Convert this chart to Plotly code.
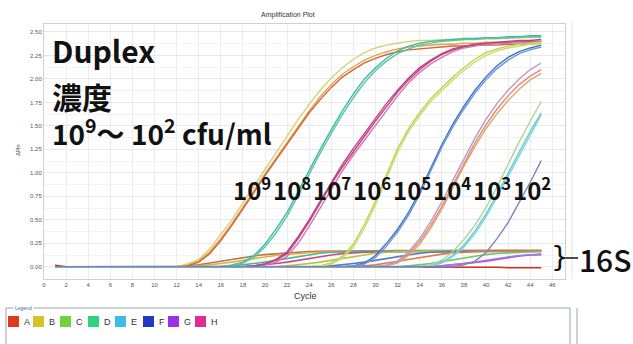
import plotly.graph_objects as go

# ---------------- data ----------------
cycles = list(range(1, 46))

# target amplification curves (values for the last cycles; earlier cycles are baseline 0)
g9a = [0.02,0.06,0.16,0.3,0.46,0.63,0.81,0.99,1.16,1.33,1.5,1.66,1.81,1.94,2.05,2.13,2.2,2.25,2.29,2.32,2.34,2.35,2.36,2.37,2.37,2.38,2.38,2.39,2.39,2.39,2.40,2.40,2.40]
g9b = [0.03,0.08,0.19,0.34,0.5,0.68,0.86,1.04,1.22,1.4,1.57,1.73,1.88,2.01,2.12,2.21,2.28,2.33,2.36,2.38,2.4,2.41,2.41,2.42,2.42,2.42,2.43,2.43,2.43,2.43,2.44,2.44,2.44]
g9c = [0.01,0.05,0.14,0.28,0.44,0.61,0.79,0.97,1.14,1.31,1.48,1.64,1.78,1.91,2.02,2.1,2.17,2.22,2.26,2.29,2.31,2.32,2.33,2.34,2.35,2.35,2.36,2.36,2.36,2.37,2.37,2.37,2.38]
g8a = [0.02,0.05,0.12,0.24,0.4,0.58,0.8,1.03,1.25,1.46,1.66,1.84,2.0,2.12,2.22,2.3,2.35,2.38,2.4,2.41,2.42,2.43,2.43,2.44,2.44,2.45,2.45,2.46,2.46]
g8b = [0.01,0.04,0.1,0.21,0.36,0.54,0.76,0.99,1.21,1.42,1.62,1.8,1.96,2.09,2.19,2.27,2.32,2.36,2.38,2.4,2.41,2.42,2.42,2.43,2.43,2.44,2.44,2.45,2.45]
g7a = [0.01,0.03,0.07,0.14,0.3,0.48,0.68,0.88,1.06,1.23,1.39,1.55,1.71,1.86,1.99,2.1,2.19,2.26,2.31,2.34,2.36,2.37,2.38,2.39,2.39,2.4,2.4]
g7b = [0.0,0.02,0.05,0.11,0.25,0.43,0.63,0.83,1.02,1.19,1.35,1.51,1.67,1.82,1.96,2.07,2.16,2.23,2.29,2.33,2.35,2.37,2.38,2.38,2.39,2.39,2.4]
g7c = [0.01,0.03,0.08,0.16,0.32,0.5,0.7,0.9,1.09,1.26,1.42,1.58,1.74,1.88,2.01,2.12,2.2,2.27,2.32,2.35,2.37,2.38,2.39,2.4,2.41,2.41,2.42]
g6a = [0.01,0.04,0.11,0.24,0.45,0.7,0.98,1.26,1.47,1.64,1.79,1.91,2.02,2.12,2.21,2.28,2.32,2.35,2.37,2.38,2.39]
g6b = [0.01,0.03,0.09,0.21,0.41,0.66,0.94,1.22,1.44,1.61,1.76,1.88,1.99,2.09,2.18,2.25,2.3,2.33,2.35,2.37,2.38]
g5a = [0.01,0.04,0.12,0.25,0.4,0.58,0.8,1.05,1.3,1.52,1.71,1.88,2.02,2.14,2.23,2.29,2.33,2.36]
g5b = [0.01,0.03,0.1,0.22,0.37,0.55,0.77,1.02,1.27,1.49,1.68,1.85,1.99,2.11,2.2,2.27,2.31,2.34]
g4a = [0.01,0.05,0.14,0.27,0.44,0.64,0.87,1.1,1.32,1.51,1.68,1.82,1.94,2.03,2.1]
g4b = [0.01,0.04,0.12,0.24,0.41,0.61,0.84,1.07,1.28,1.47,1.63,1.77,1.89,1.99,2.06]
g4c = [0.02,0.06,0.16,0.3,0.48,0.69,0.92,1.15,1.37,1.57,1.74,1.88,2.0,2.1,2.17]
g3a = [0.02,0.07,0.16,0.29,0.44,0.63,0.85,1.09,1.33,1.55,1.76]
g3b = [0.01,0.05,0.12,0.23,0.38,0.56,0.77,1.0,1.22,1.44,1.64]
g3c = [0.01,0.04,0.11,0.21,0.35,0.53,0.74,0.96,1.19,1.41,1.62]
g2a = [0.02,0.06,0.15,0.3,0.47,0.68,0.9,1.13]

# 16S curves
s9a = [0.01,0.02,0.04,0.06,0.08,0.1,0.115,0.13,0.14,0.15,0.157,0.162,0.166,0.168,0.17,0.171,0.172,0.172,0.173,0.173,0.174,0.174,0.174,0.175,0.175,0.175,0.175,0.176,0.176,0.176,0.176,0.176,0.176]
s9b = [0.01,0.02,0.035,0.05,0.07,0.09,0.105,0.12,0.132,0.142,0.15,0.155,0.158,0.16,0.162,0.163,0.164,0.165,0.165,0.166,0.166,0.166,0.167,0.167,0.167,0.167,0.168,0.168,0.168,0.168,0.168,0.168]
s8 = [0.005,0.01,0.02,0.035,0.05,0.07,0.09,0.11,0.13,0.145,0.155,0.16,0.163,0.165,0.166,0.167,0.168,0.168,0.169,0.169,0.17,0.17,0.17,0.17,0.171,0.171,0.171,0.171,0.171,0.171]
s7 = [0.01,0.02,0.035,0.05,0.07,0.09,0.11,0.125,0.14,0.15,0.155,0.158,0.16,0.161,0.162,0.162,0.163,0.163,0.163,0.164,0.164,0.164,0.164,0.164,0.165,0.165,0.165]
s6 = [0.01,0.02,0.035,0.05,0.07,0.09,0.11,0.13,0.145,0.155,0.16,0.163,0.165,0.166,0.167,0.168,0.168,0.169,0.169,0.169,0.17,0.17,0.17,0.17]
s5 = [0.01,0.02,0.035,0.05,0.07,0.09,0.11,0.13,0.145,0.155,0.16,0.162,0.164,0.165,0.166,0.166,0.167,0.167,0.167,0.168]
s4 = [0.01,0.02,0.04,0.06,0.08,0.1,0.12,0.135,0.148,0.156,0.16,0.163,0.165,0.166,0.167,0.168,0.168]
s3 = [0.01,0.02,0.035,0.055,0.075,0.095,0.115,0.13,0.142,0.15,0.155,0.158,0.16]
s2a = [0.01,0.02,0.03,0.045,0.06,0.08,0.1,0.115,0.125,0.13]
s2b = [0.005,0.01,0.02,0.035,0.05,0.07,0.09,0.105,0.12,0.13,0.135]
flat_a = [0.015,0.0,0.0,0.0,0.0, 0.0,0.0,0.0,0.0,0.0, 0.0,0.0,0.0,0.0,0.0,
          0.0,0.0,0.0,0.0,0.0, 0.0,0.0,0.0,0.0,0.0, 0.0,0.0,0.0,0.0,0.0,
          0.0,0.0,0.0,0.0,0.0, 0.0,0.0,0.0,-0.005,-0.005, -0.005,-0.01,-0.01,-0.01,-0.01]

series_16s = [s9a, s9b, s8, s7, s6, s5, s4, s3, s2a, s2b, flat_a]
colors_16s = ["#b8734a", "#e3b23c", "#44b89a", "#c44a8a", "#b0c840", "#4a7cc8",
              "#e07b4a", "#6cc86a", "#9a4ad8", "#b070e0", "#d83020"]

series_target = [g9a, g9b, g9c, g8a, g8b, g7a, g7b, g7c, g6a, g6b, g5a, g5b,
                 g4a, g4b, g4c, g3a, g3b, g3c, g2a]
colors_target = ["#e2a54a", "#d9cf7a", "#d2643a", "#3fb9a5", "#5cc6a0",
                 "#c8398a", "#d877b0", "#b5497f", "#b9d24c", "#cddc6e",
                 "#3f74c9", "#6d95d6", "#e58a68", "#d9a77a", "#b89ac9",
                 "#a9d98f", "#62c9c9", "#7fd5df", "#7b86b8"]

x_ticks = list(range(0, 47, 2))
legend_names = ["A", "B", "C", "D", "E", "F", "G", "H"]
legend_colors = ["#e0381c", "#d6c227", "#6fd23a", "#2fd47a", "#3dbde6", "#2238c4", "#9b32e6", "#e02c92"]
conc_labels = ["9", "8", "7", "6", "5", "4", "3", "2"]

# ---------------- figure ----------------
def full(tail):
    return [0.0] * (len(cycles) - len(tail)) + tail

fig = go.Figure()
for vals, col in zip(series_16s, colors_16s):
    fig.add_trace(go.Scatter(x=cycles, y=full(vals), mode="lines",
                             line=dict(color=col, width=1.6), showlegend=False, hoverinfo="skip"))
for vals, col in zip(series_target, colors_target):
    fig.add_trace(go.Scatter(x=cycles, y=full(vals), mode="lines",
                             line=dict(color=col, width=1.4), showlegend=False, hoverinfo="skip"))

L, R, T, B = 44, 68, 24, 65
W, H = 633, 344
PW, PH = W - L - R, H - T - B

def px(xp):
    return (xp - L) / PW

def py(yp):
    return (H - B - yp) / PH

def txt(text, xp, yp, size, family="Liberation Sans", color="#111", xa="left", weight=None, **kw):
    f = dict(family=family, size=size, color=color)
    if weight is not None:
        f["weight"] = weight
    return dict(text=text, x=px(xp), y=py(yp), xref="paper", yref="paper",
                xanchor=xa, yanchor="middle", showarrow=False, font=f, **kw)

bigfont = "Noto Sans CJK JP"
ann = []
ann.append(txt("Amplification Plot", 288, 15, 7, color="#333", xa="center"))
ann.append(txt("ΔRn", 18, 150, 6, color="#444", xa="center", textangle=-90))
ann.append(txt("Cycle", 305, 296, 9, color="#333", xa="center"))
ann.append(txt("<b>Duplex</b>", 50, 50, 30, family=bigfont))
ann.append(txt("<b>濃度</b>", 50, 96, 30, family=bigfont))
ann.append(txt("<b>10<sup>9</sup>～ 10<sup>2</sup> cfu/ml</b>", 50, 131, 28, family=bigfont))
conc_x = [231, 271, 311, 351, 391, 431, 471, 511]
for lab, xp in zip(conc_labels, conc_x):
    ann.append(txt("<b>10<sup>" + lab + "</sup></b>", xp, 189, 24, family=bigfont))
ann.append(txt("}", 560, 257, 28, family="DejaVu Sans", xa="center"))
ann.append(txt("16S", 577, 259, 30, family=bigfont, weight=500))
ann.append(txt("Legend", 13, 308, 5, color="#4a6a9a", bgcolor="white"))

sq_x = [8, 33, 60, 88, 115, 143, 168, 195]
shapes = []
shapes.append(dict(type="line", xref="paper", yref="paper", x0=px(572), x1=px(572),
                   y0=py(279), y1=py(22), line=dict(color="#e3e3e3", width=1)))
shapes.append(dict(type="line", xref="paper", yref="paper", x0=px(577), x1=px(577),
                   y0=py(360), y1=py(308), line=dict(color="#9aa4ae", width=1)))
shapes.append(dict(type="rect", xref="paper", yref="paper", x0=px(6), x1=px(570),
                   y0=py(360), y1=py(308), line=dict(color="#9aa4ae", width=1), fillcolor="rgba(0,0,0,0)"))
for nm, col, xp in zip(legend_names, legend_colors, sq_x):
    shapes.append(dict(type="rect", xref="paper", yref="paper", x0=px(xp), x1=px(xp + 11),
                       y0=py(327), y1=py(316), fillcolor=col, line=dict(width=0)))
    ann.append(txt(nm, xp + 14, 321.5, 9, color="#333"))
shapes.append(dict(type="line", xref="paper", yref="paper", x0=px(566), x1=px(578),
                   y0=py(258), y1=py(258), line=dict(color="#111", width=1.5)))

fig.update_layout(
    width=W, height=H,
    margin=dict(l=L, r=R, t=T, b=B),
    paper_bgcolor="white", plot_bgcolor="white",
    showlegend=False,
    annotations=ann, shapes=shapes,
    xaxis=dict(range=[0, 47.15], tickvals=x_ticks, ticktext=[str(v) for v in x_ticks],
               showgrid=True, gridcolor="#ececec", gridwidth=1,
               showline=True, mirror=True, linecolor="#d0d0d0", linewidth=1,
               zeroline=False, ticks="", tickfont=dict(family="Liberation Sans", size=6, color="#555")),
    yaxis=dict(range=[-0.13, 2.585], dtick=0.25, tick0=0, tickformat=".2f",
               showgrid=True, gridcolor="#e8e8e8", gridwidth=1,
               minor=dict(dtick=0.125, showgrid=True, gridcolor="#f3f3f3"),
               showline=True, mirror=True, linecolor="#d0d0d0", linewidth=1,
               zeroline=False, ticks="", tickfont=dict(family="Liberation Sans", size=6, color="#555")),
)

fig.write_html("out.html", config={"displayModeBar": False},
               post_script="document.body.style.margin='0';document.body.style.padding='0';document.body.style.overflow='hidden';")
